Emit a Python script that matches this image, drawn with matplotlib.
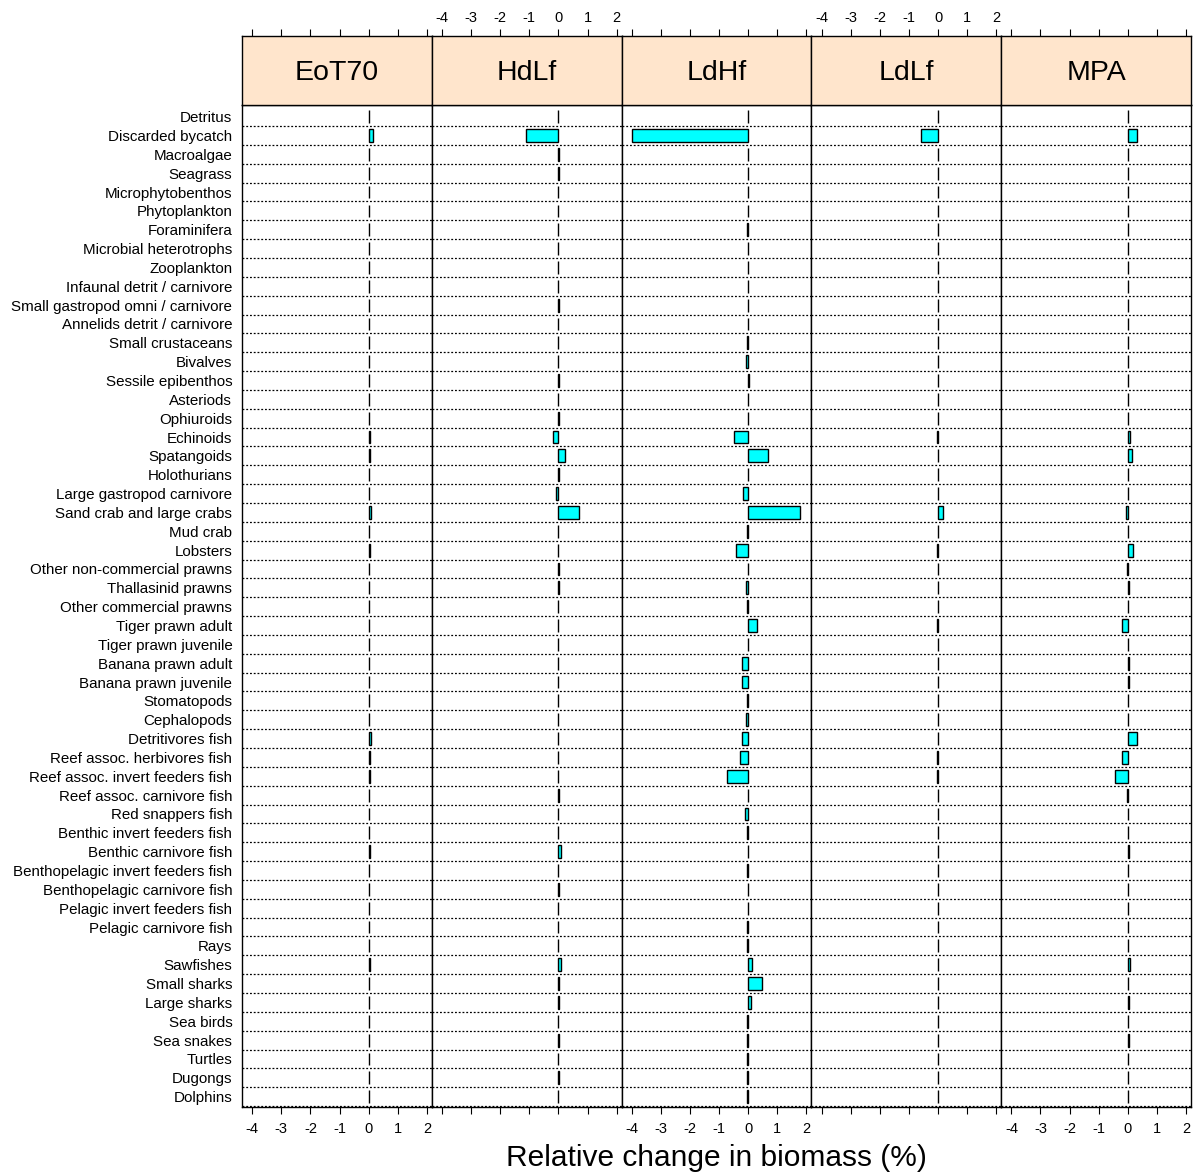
import numpy as np
import matplotlib.pyplot as plt

plt.rcParams['font.family'] = ['Liberation Sans', 'DejaVu Sans']
plt.rcParams['axes.unicode_minus'] = False

groups = [
    "Detritus", "Discarded bycatch", "Macroalgae", "Seagrass", "Microphytobenthos",
    "Phytoplankton", "Foraminifera", "Microbial heterotrophs", "Zooplankton",
    "Infaunal detrit / carnivore", "Small gastropod omni / carnivore",
    "Annelids detrit / carnivore", "Small crustaceans", "Bivalves", "Sessile epibenthos",
    "Asteriods", "Ophiuroids", "Echinoids", "Spatangoids", "Holothurians",
    "Large gastropod carnivore", "Sand crab and large crabs", "Mud crab", "Lobsters",
    "Other non-commercial prawns", "Thallasinid prawns", "Other commercial prawns",
    "Tiger prawn adult", "Tiger prawn juvenile", "Banana prawn adult",
    "Banana prawn juvenile", "Stomatopods", "Cephalopods", "Detritivores fish",
    "Reef assoc. herbivores fish", "Reef assoc. invert feeders fish",
    "Reef assoc. carnivore fish", "Red snappers fish", "Benthic invert feeders fish",
    "Benthic carnivore fish", "Benthopelagic invert feeders fish",
    "Benthopelagic carnivore fish", "Pelagic invert feeders fish",
    "Pelagic carnivore fish", "Rays", "Sawfishes", "Small sharks", "Large sharks",
    "Sea birds", "Sea snakes", "Turtles", "Dugongs", "Dolphins",
]

scenarios = ["EoT70", "HdLf", "LdHf", "LdLf", "MPA"]

# relative change in biomass (%), one value per group
eot70 = [0, 0.15, 0, 0, 0, 0, 0, 0, 0, 0,
         0, 0, 0, 0, 0, 0, 0, 0.03, 0.03, 0,
         0, 0.09, 0, 0.03, 0, 0, 0, 0, 0, 0,
         0, 0, 0, 0.09, 0.03, 0.03, 0, 0, 0, 0.03,
         0, 0, 0, 0, 0, 0.03, 0, 0, 0, 0,
         0, 0, 0]
hdlf = [0, -1.1, 0.03, 0.03, 0, 0, 0, 0, 0, 0,
        0.03, 0, 0, 0, 0.03, 0, 0.03, -0.17, 0.23, 0.03,
        -0.08, 0.70, 0, -0.03, 0.03, 0.03, 0, 0, 0, 0,
        0, 0, 0, -0.03, 0, 0, 0.03, 0, 0, 0.1,
        0, 0.03, 0, 0, 0, 0.1, 0.03, 0.03, 0, 0.03,
        0, 0.03, 0]
ldhf = [0, -4.0, 0, 0, 0, 0, -0.03, 0, 0, 0,
        0, 0, -0.03, -0.07, 0.03, 0, 0, -0.5, 0.69, 0,
        -0.17, 1.77, -0.03, -0.42, 0, -0.09, -0.03, 0.31, 0, -0.22,
        -0.22, -0.03, -0.09, -0.22, -0.29, -0.72, 0, -0.12, -0.03, 0,
        -0.03, 0, 0, -0.03, -0.03, 0.14, 0.49, 0.1, -0.03, -0.03,
        -0.03, -0.03, -0.03]
ldlf = [0, -0.6, 0, 0, 0, 0, 0, 0, 0, 0,
        0, 0, 0, 0, 0, 0, 0, -0.03, 0, 0,
        0, 0.18, 0, -0.03, 0, 0, 0, -0.03, 0, 0,
        0, 0, 0, 0, -0.03, -0.03, 0, 0, 0, 0,
        0, 0, 0, 0, 0, 0, 0, 0, 0, 0,
        0, 0, 0]
mpa = [0, 0.3, 0, 0, 0, 0, 0, 0, 0, 0,
       0, 0, 0, 0, 0, 0, 0, 0.09, 0.14, 0,
       0, -0.08, 0, 0.17, -0.03, 0.03, 0, -0.21, 0, 0.03,
       0.03, 0, 0, 0.3, -0.21, -0.43, -0.03, 0, 0, 0.03,
       0, 0, 0, 0, 0, 0.09, 0, 0.03, 0, 0.03,
       0, 0, 0]
values = [eot70, hdlf, ldhf, ldlf, mpa]

xticks = [-4, -3, -2, -1, 0, 1, 2]

W, H = 1194, 1175
fig = plt.figure(figsize=(W / 100, H / 100), dpi=100)

left, right = 242, 1191
ptop, pbot = 105, 1107
stop = 36
pw = (right - left) / 5
y = np.arange(len(groups))

for k, name in enumerate(scenarios):
    x0 = left + k * pw
    ax = fig.add_axes([x0 / W, 1 - pbot / H, pw / W, (pbot - ptop) / H])
    ax.barh(y, values[k], height=0.68, color='#00FFFF', edgecolor='black',
            linewidth=1.0, zorder=3)
    for i in range(len(groups)):
        ax.axhline(i + 0.5, color='black', ls=(0, (1.5, 1.5)), lw=0.9, zorder=1)
    ax.set_xlim(-4.35, 2.17)
    ax.set_ylim(52.55, -0.62)
    ax.set_xticks(xticks)
    ax.tick_params(axis='x', direction='out', length=5, labelsize=10.5, pad=6)
    if k % 2 == 1:
        ax.set_xticklabels([])
    if k == 0:
        ax.set_yticks(y)
        ax.set_yticklabels(groups, fontsize=10.9)
        ax.tick_params(axis='y', length=0, pad=7)
    else:
        ax.set_yticks([])
    for sp in ax.spines.values():
        sp.set_linewidth(1.0)

    sx = fig.add_axes([x0 / W, 1 - ptop / H, pw / W, (ptop - stop) / H])
    sx.set_facecolor('#FFE5CC')
    sx.set_xlim(-4.35, 2.17)
    sx.set_xticks(xticks)
    sx.xaxis.tick_top()
    sx.tick_params(axis='x', direction='out', length=5, labelsize=10.5, pad=3)
    if k % 2 == 0:
        sx.set_xticklabels([])
    sx.set_yticks([])
    sx.text(0.5, 0.46, name, transform=sx.transAxes, ha='center', va='center',
            fontsize=20.5)
    for sp in sx.spines.values():
        sp.set_linewidth(1.0)

fig.text((left + right) / 2 / W, 1 - 1158 / H, "Relative change in biomass (%)",
         ha='center', va='center', fontsize=21.5)

fig.savefig("out.png", dpi=100)
